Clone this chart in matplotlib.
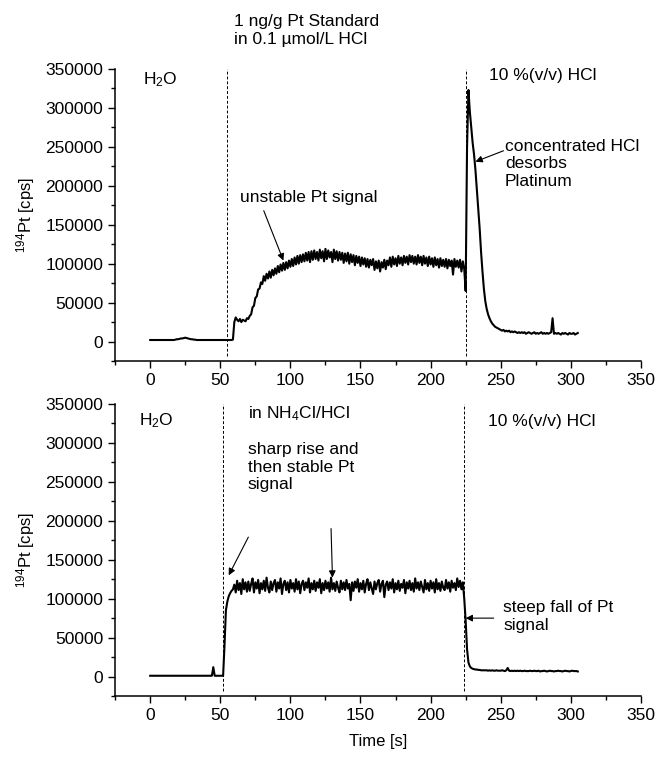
import matplotlib
matplotlib.use("Agg")
import matplotlib.pyplot as plt
import numpy as np
from matplotlib.ticker import MultipleLocator

plt.rcParams['font.family'] = ['Liberation Sans', 'DejaVu Sans']
plt.rcParams['mathtext.fontset'] = 'custom'
plt.rcParams['mathtext.rm'] = 'Liberation Sans'
plt.rcParams['mathtext.it'] = 'Liberation Sans:italic'
FS = 12.5

# time axis, one reading per second (0 .. 305 s)
time_s = np.arange(0, 306)

# upper panel: Pt standard in 0.1 umol/L HCl (values in 1000 cps)
pt_hcl = [
    2, 2, 2, 2, 2, 2, 2, 2, 2, 2,
    2, 2, 2, 2, 2, 2, 2, 2, 2.5, 3,
    3, 3.5, 4, 4, 4.5, 5, 4.5, 4, 3.5, 3,
    3, 2.5, 2.5, 2, 2, 2, 2, 2, 2, 2,
    2, 2, 2, 2, 2, 2, 2, 2, 2, 2,
    2, 2, 2, 2, 2, 2, 2, 2, 2, 2.5,
    25, 31, 28, 26, 29, 25, 28, 27, 26, 30,
    29, 33, 35, 44, 46, 56, 58, 67, 68, 76,
    74, 84, 78, 87, 81, 90, 82, 92, 85, 94,
    87, 97, 89, 99, 91, 101, 92, 102, 94, 104,
    96, 106, 97, 108, 99, 110, 100, 111, 102, 112,
    103, 114, 104, 115, 102, 116, 105, 117, 106, 115,
    104, 118, 107, 116, 103, 119, 106, 117, 108, 115,
    102, 118, 106, 116, 104, 115, 105, 114, 101, 113,
    103, 114, 100, 112, 102, 111, 98, 110, 101, 109,
    97, 108, 99, 107, 96, 106, 95, 105, 98, 106,
    92, 103, 94, 104, 90, 102, 95, 105, 93, 104,
    98, 108, 96, 109, 99, 107, 97, 110, 100, 108,
    98, 110, 101, 109, 99, 111, 102, 110, 100, 109,
    99, 111, 101, 109, 98, 110, 100, 108, 97, 109,
    99, 107, 96, 108, 98, 106, 95, 107, 97, 105,
    96, 106, 94, 105, 97, 104, 86, 106, 96, 104,
    95, 105, 90, 103, 93, 65, 250, 323, 295, 275,
    255, 240, 220, 195, 170, 145, 115, 90, 68, 52,
    42, 35, 30, 26, 23, 21, 19, 18, 17, 16,
    15, 14, 15, 13, 14, 13, 14, 12, 13, 12,
    13, 12, 11, 12, 11, 12, 11, 12, 10, 11,
    12, 11, 10, 11, 12, 10, 11, 10, 11, 12,
    10, 11, 10, 11, 10, 11, 12, 30, 10, 11,
    10, 11, 10, 9, 11, 10, 11, 10, 9, 11,
    10, 10, 11, 9, 10, 11,
]

# lower panel: Pt standard in NH4Cl/HCl (values in 1000 cps)
pt_nh4cl = [
    1, 1, 1, 1, 1, 1, 1, 1, 1, 1,
    1, 1, 1, 1, 1, 1, 1, 1, 1, 1,
    1, 1, 1, 1, 1, 1, 1, 1, 1, 1,
    1, 1, 1, 1, 1, 1, 1, 1, 1, 1,
    1, 1, 1, 1, 1, 12, 1, 1, 1, 1,
    1, 1, 1, 40, 85, 96, 103, 107, 110, 112,
    118, 108, 123, 111, 120, 106, 125, 112, 121, 109,
    122, 110, 119, 126, 108, 121, 113, 124, 107, 120,
    112, 123, 110, 127, 114, 108, 122, 111, 120, 124,
    109, 121, 113, 126, 106, 119, 123, 111, 121, 108,
    124, 113, 120, 109, 125, 112, 122, 107, 119, 123,
    111, 121, 114, 126, 108, 120, 112, 123, 110, 121,
    114, 125, 107, 120, 111, 123, 113, 121, 109, 127,
    112, 120, 110, 122, 114, 108, 123, 112, 121, 111,
    124, 113, 119, 98, 121, 110, 122, 114, 125, 109,
    120, 112, 123, 108, 119, 125, 111, 121, 113, 106,
    122, 112, 120, 124, 109, 119, 123, 102, 118, 122,
    111, 121, 113, 125, 108, 120, 112, 123, 110, 119,
    114, 124, 107, 121, 113, 123, 111, 120, 109, 126,
    113, 121, 111, 122, 115, 108, 124, 112, 120, 110,
    123, 113, 121, 108, 125, 112, 120, 110, 122, 114,
    111, 124, 113, 121, 109, 123, 114, 120, 111, 126,
    115, 123, 112, 121, 100, 72, 35, 18, 13, 11,
    10, 9.5, 9, 9, 8.5, 8.5, 8, 8, 8, 8,
    8, 7.5, 8, 7.5, 8, 7.5, 7.5, 8, 7.5, 7.5,
    7.5, 8, 7.5, 7, 8, 11, 7.5, 7, 7.5, 7,
    7.5, 7, 7.5, 7, 7.5, 7, 7, 7.5, 7, 7,
    7, 7.5, 7, 7, 7.5, 7, 7, 7.5, 6.5, 7,
    7, 7.5, 7, 6.5, 7, 7.5, 7, 7, 6.5, 7,
    7, 7.5, 7, 7, 6.5, 7, 7.5, 7, 7, 6.5,
    7, 7.5, 7, 7, 7, 6.5,
]

switch_top = [55, 225]
switch_bottom = [52, 223.5]


def style_axes(ax):
    ax.set_xlim(-25, 350)
    ax.set_ylim(-25000, 350000)
    ax.spines['top'].set_visible(False)
    ax.spines['right'].set_visible(False)
    ax.xaxis.set_minor_locator(MultipleLocator(25))
    ax.yaxis.set_minor_locator(MultipleLocator(25000))
    ax.set_xticks(np.arange(0, 351, 50))
    ax.set_yticks(np.arange(0, 350001, 50000))
    ax.tick_params(which='major', direction='out', length=5, width=1, labelsize=FS)
    ax.tick_params(which='minor', direction='out', length=3, width=1)
    ax.set_ylabel('$^{194}$Pt [cps]', fontsize=FS - 0.5, labelpad=6)
    for s in ax.spines.values():
        s.set_linewidth(1.1)


fig = plt.figure(figsize=(6.58, 7.58), dpi=100)
ax1 = fig.add_axes([0.175, 0.5237, 0.799, 0.3853])
ax2 = fig.add_axes([0.175, 0.0818, 0.799, 0.3852])

ax1.plot(time_s, np.array(pt_hcl) * 1000, color='black', lw=1.5)
for xv in switch_top:
    ax1.vlines(xv, -18000, 350000, colors='black', linestyles=(0, (3, 2)), lw=0.7)
style_axes(ax1)

ax1.text(60, 378000, '1 ng/g Pt Standard\nin 0.1 µmol/L HCl', fontsize=FS,
         va='bottom', ha='left', linespacing=1.25, clip_on=False)
ax1.text(-5, 336000, 'H$_2$O', fontsize=FS, va='center', ha='left')
ax1.text(242, 342000, '10 %(v/v) HCl', fontsize=FS, va='center', ha='left')
ax1.text(64, 185000, 'unstable Pt signal', fontsize=FS, va='center', ha='left')
ax1.annotate('', xy=(95, 104000), xytext=(81, 168000),
             arrowprops=dict(arrowstyle='-|>', color='black', lw=0.8,
                             mutation_scale=10, shrinkA=0, shrinkB=0))
ax1.text(253, 228000, 'concentrated HCl\ndesorbs\nPlatinum', fontsize=FS,
         va='center', ha='left', linespacing=1.2)
ax1.annotate('', xy=(232, 231000), xytext=(252, 245000),
             arrowprops=dict(arrowstyle='-|>', color='black', lw=0.8,
                             mutation_scale=10, shrinkA=0, shrinkB=0))

ax2.plot(time_s, np.array(pt_nh4cl) * 1000, color='black', lw=1.5)
for xv in switch_bottom:
    ax2.vlines(xv, -18000, 350000, colors='black', linestyles=(0, (3, 2)), lw=0.7)
style_axes(ax2)
ax2.set_xlabel('Time [s]', fontsize=FS - 0.5, labelpad=8)

ax2.text(-8, 329000, 'H$_2$O', fontsize=FS, va='center', ha='left')
ax2.text(69.5, 338000, 'in NH$_4$Cl/HCl', fontsize=FS, va='center', ha='left')
ax2.text(69.5, 269000, 'sharp rise and\nthen stable Pt\nsignal', fontsize=FS,
         va='center', ha='left', linespacing=1.2)
ax2.annotate('', xy=(56, 130000), xytext=(70, 179000),
             arrowprops=dict(arrowstyle='-|>', color='black', lw=0.8,
                             mutation_scale=10, shrinkA=0, shrinkB=0))
ax2.annotate('', xy=(130, 127000), xytext=(129, 190000),
             arrowprops=dict(arrowstyle='-|>', color='black', lw=0.8,
                             mutation_scale=10, shrinkA=0, shrinkB=0))
ax2.text(241, 327000, '10 %(v/v) HCl', fontsize=FS, va='center', ha='left')
ax2.text(252, 77000, 'steep fall of Pt\nsignal', fontsize=FS,
         va='center', ha='left', linespacing=1.2)
ax2.annotate('', xy=(225, 75000), xytext=(245, 75000),
             arrowprops=dict(arrowstyle='-|>', color='black', lw=0.8,
                             mutation_scale=10, shrinkA=0, shrinkB=0))

fig.savefig('out.png', dpi=100)
